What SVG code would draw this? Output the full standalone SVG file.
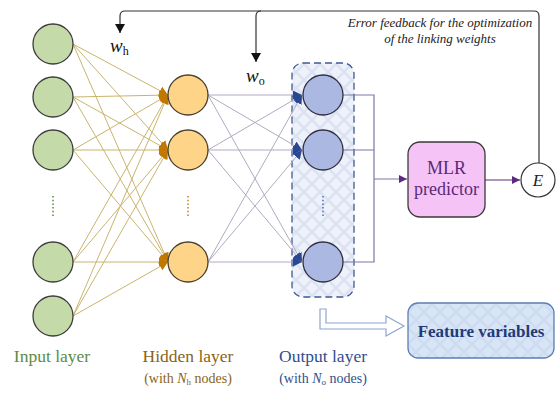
<svg xmlns="http://www.w3.org/2000/svg" width="556" height="394" viewBox="0 0 556 394" font-family="'Liberation Serif', 'Times New Roman', Times, serif">
  <style>
    .in { fill: #c4dba9; stroke: #3c3c3c; stroke-width: 1.3; }
    .hid { fill: #fdd488; stroke: #4a4030; stroke-width: 1.3; }
    .out { fill: #aab8e2; stroke: #2e2e40; stroke-width: 1.3; }
    .w-ih { stroke: #c9b46e; stroke-width: 1; fill: none; }
    .w-ho { stroke: #b3a9c2; stroke-width: 1; fill: none; }
    .agg { stroke: #7b78a6; stroke-width: 1.2; fill: none; }
    .fb { stroke: #333; stroke-width: 1.2; fill: none; }
    .lbl { font-size: 17.5px; }
    .sub { font-size: 14px; }
  </style>
  <defs>
    <marker id="ah" markerUnits="userSpaceOnUse" markerWidth="11" markerHeight="11" refX="9" refY="4.5" orient="auto">
      <path d="M0,0 L9,4.5 L0,9 Z" fill="#c07800"/>
    </marker>
    <marker id="ao" markerUnits="userSpaceOnUse" markerWidth="11" markerHeight="11" refX="9" refY="4.5" orient="auto">
      <path d="M0,0 L9,4.5 L0,9 Z" fill="#2a4794"/>
    </marker>
    <marker id="ap" markerUnits="userSpaceOnUse" markerWidth="10" markerHeight="10" refX="8" refY="4" orient="auto">
      <path d="M0,0 L8,4 L0,8 Z" fill="#5a2a80"/>
    </marker>
    <marker id="ak" markerUnits="userSpaceOnUse" markerWidth="12" markerHeight="12" refX="9" refY="5" orient="auto">
      <path d="M0,0 L9,5 L0,10 Z" fill="#111"/>
    </marker>
    <pattern id="hatch" width="16" height="16" patternUnits="userSpaceOnUse">
      <rect width="16" height="16" fill="#eef1f9"/>
      <path d="M0,0 L16,16 M16,0 L0,16" stroke="#dbe3f3" stroke-width="2.5"/>
    </pattern>
    <pattern id="hatch2" width="16" height="16" patternUnits="userSpaceOnUse">
      <rect width="16" height="16" fill="#d8e5f6"/>
      <path d="M0,0 L16,16 M16,0 L0,16" stroke="#cddcf1" stroke-width="2.5"/>
    </pattern>
  </defs>

  <rect width="556" height="394" fill="#ffffff"/>

  <!-- grouping frame around the output layer -->
  <g id="output-frame">
    <rect x="292" y="63" width="62" height="234" rx="11" fill="url(#hatch)" stroke="#3f5a92" stroke-width="1.3" stroke-dasharray="7,4"/>
  </g>

  <g id="connectors">
    <!-- input to hidden weights -->
    <g class="w-ih" marker-end="url(#ah)">
      <line x1="73" y1="44" x2="168" y2="95"/>
      <line x1="73" y1="44" x2="168" y2="150"/>
      <line x1="73" y1="44" x2="168" y2="262"/>
      <line x1="73" y1="97" x2="168" y2="95"/>
      <line x1="73" y1="97" x2="168" y2="150"/>
      <line x1="73" y1="97" x2="168" y2="262"/>
      <line x1="73" y1="150" x2="168" y2="95"/>
      <line x1="73" y1="150" x2="168" y2="150"/>
      <line x1="73" y1="150" x2="168" y2="262"/>
      <line x1="73" y1="262" x2="168" y2="95"/>
      <line x1="73" y1="262" x2="168" y2="150"/>
      <line x1="73" y1="262" x2="168" y2="262"/>
      <line x1="73" y1="316" x2="168" y2="95"/>
      <line x1="73" y1="316" x2="168" y2="150"/>
      <line x1="73" y1="316" x2="168" y2="262"/>
    </g>
    <!-- hidden to output weights -->
    <g class="w-ho" marker-end="url(#ao)">
      <line x1="208" y1="95" x2="302" y2="95"/>
      <line x1="208" y1="95" x2="302" y2="150"/>
      <line x1="208" y1="95" x2="302" y2="262"/>
      <line x1="208" y1="150" x2="302" y2="95"/>
      <line x1="208" y1="150" x2="302" y2="150"/>
      <line x1="208" y1="150" x2="302" y2="262"/>
      <line x1="208" y1="262" x2="302" y2="95"/>
      <line x1="208" y1="262" x2="302" y2="150"/>
      <line x1="208" y1="262" x2="302" y2="262"/>
    </g>
    <!-- outputs gathered into the predictor -->
    <path class="agg" d="M343,95 H374 V262 H343 M343,150 H374"/>
    <line class="agg" x1="374" y1="179" x2="407" y2="179" marker-end="url(#ap)"/>
    <!-- predictor to error -->
    <line x1="485" y1="180" x2="520" y2="180" stroke="#5a2a80" stroke-width="1.2" marker-end="url(#ap)"/>
    <!-- error feedback loop -->
    <path class="fb" d="M539,163 V16 Q539,11 534,11 H125 Q120,11 120,16 V33" marker-end="url(#ak)"/>
    <path class="fb" d="M261,11 Q256,11 256,16 V62" marker-end="url(#ak)"/>
    <!-- hollow arrow to feature variables -->
    <path d="M320,309 V329 H386 V336 L404,326 L386,316 V323 H326 V309 Z" fill="#ffffff" stroke="#8ea6cf" stroke-width="1.2"/>
  </g>

  <!-- input layer -->
  <g id="input-1"><circle class="in" cx="53" cy="44" r="20"/></g>
  <g id="input-2"><circle class="in" cx="53" cy="97" r="20"/></g>
  <g id="input-3"><circle class="in" cx="53" cy="150" r="20"/></g>
  <g id="input-4"><circle class="in" cx="53" cy="262" r="20"/></g>
  <g id="input-5"><circle class="in" cx="53" cy="316" r="20"/></g>
  <line x1="53" y1="196" x2="53" y2="218" stroke="#5f8f4a" stroke-width="1.6" stroke-dasharray="1.5,2.2"/>

  <!-- hidden layer -->
  <g id="hidden-1"><circle class="hid" cx="188" cy="95" r="20"/></g>
  <g id="hidden-2"><circle class="hid" cx="188" cy="150" r="20"/></g>
  <g id="hidden-3"><circle class="hid" cx="188" cy="262" r="20"/></g>
  <line x1="188" y1="196" x2="188" y2="218" stroke="#c08a30" stroke-width="1.6" stroke-dasharray="1.5,2.2"/>

  <!-- output layer -->
  <g id="output-1"><circle class="out" cx="323" cy="95" r="20"/></g>
  <g id="output-2"><circle class="out" cx="323" cy="150" r="20"/></g>
  <g id="output-3"><circle class="out" cx="323" cy="262" r="20"/></g>
  <line x1="323" y1="196" x2="323" y2="218" stroke="#4a78c0" stroke-width="1.6" stroke-dasharray="1.5,2.2"/>

  <!-- MLR predictor -->
  <g id="mlr">
    <rect x="408" y="142" width="77" height="75" rx="12" fill="#f6c3f6" stroke="#3a3a3a" stroke-width="1.3"/>
    <text x="446.5" y="174" font-family="Liberation Serif, serif" font-size="18" fill="#5a2a78" text-anchor="middle">MLR</text>
    <text x="446.5" y="195" font-family="Liberation Serif, serif" font-size="18" fill="#5a2a78" text-anchor="middle">predictor</text>
  </g>

  <!-- error node -->
  <g id="error">
    <circle cx="538" cy="180" r="17" fill="#ffffff" stroke="#333" stroke-width="1.2"/>
    <text x="538" y="186" font-family="Liberation Serif, serif" font-size="17" font-style="italic" fill="#222" text-anchor="middle">E</text>
  </g>

  <!-- feature variables -->
  <g id="features">
    <rect x="408" y="303" width="146" height="55" rx="10" fill="url(#hatch2)" stroke="#5b7fb3" stroke-width="1.3"/>
    <text x="481" y="337" font-family="Liberation Serif, serif" font-size="17" font-weight="bold" fill="#1f3b7a" text-anchor="middle">Feature variables</text>
  </g>

  <!-- weight labels -->
  <g id="weights" fill="#111" font-family="Liberation Serif, serif">
    <text x="110" y="52" font-size="19" font-style="italic">w<tspan font-size="12" font-style="normal" dy="3">h</tspan></text>
    <text x="246" y="82" font-size="19" font-style="italic">w<tspan font-size="12" font-style="normal" dy="3">o</tspan></text>
  </g>

  <!-- feedback caption -->
  <g id="caption" font-family="Liberation Serif, serif" font-size="13" font-style="italic" fill="#222" text-anchor="middle">
    <text x="440" y="27">Error feedback for the optimization</text>
    <text x="440" y="43">of the linking weights</text>
  </g>

  <!-- layer labels -->
  <g id="labels" font-family="Liberation Serif, serif" text-anchor="middle">
    <text class="lbl" x="52" y="362" fill="#5b8c45">Input layer</text>
    <text class="lbl" x="188" y="362" fill="#8a6418">Hidden layer</text>
    <text class="sub" x="188" y="383" fill="#8a6418">(with <tspan font-style="italic">N</tspan><tspan font-size="9" dy="2">h</tspan><tspan dy="-2"> nodes)</tspan></text>
    <text class="lbl" x="323" y="362" fill="#2f4f8c">Output layer</text>
    <text class="sub" x="323" y="383" fill="#2f4f8c">(with <tspan font-style="italic">N</tspan><tspan font-size="9" dy="2">o</tspan><tspan dy="-2"> nodes)</tspan></text>
  </g>
</svg>
